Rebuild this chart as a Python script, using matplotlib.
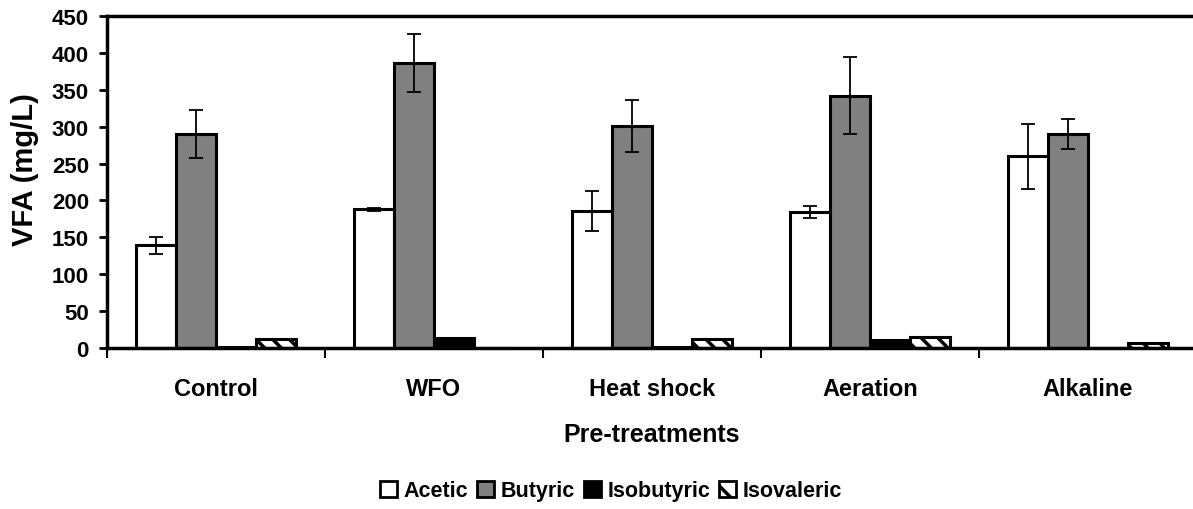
import numpy as np
import matplotlib
matplotlib.use('Agg')
import matplotlib.pyplot as plt
from matplotlib.patches import Patch
from matplotlib.ticker import FixedLocator, MultipleLocator

# Chart data
treatments = ['Control', 'WFO', 'Heat shock', 'Aeration', 'Alkaline']
series = ['Acetic', 'Butyric', 'Isobutyric', 'Isovaleric']

acetic = [139, 188, 186, 184, 260]
acetic_err = [12, 2, 27, 8, 44]
butyric = [290, 386, 301, 342, 290]
butyric_err = [33, 39, 35, 52, 20]
isobutyric = [2, 13, 2, 11, 0]
isovaleric = [12, 0, 12, 15, 7]

plt.rcParams['font.family'] = ['Liberation Sans', 'DejaVu Sans']
plt.rcParams['font.weight'] = 'bold'
plt.rcParams['hatch.linewidth'] = 2.5
plt.rcParams['hatch.color'] = 'black'

fig = plt.figure(figsize=(11.93, 5.10), dpi=100)
ax = fig.add_axes([107 / 1193, 1 - 349 / 510, 1090 / 1193, 332 / 510])

x = np.arange(len(treatments))
w = 0.183
edge = dict(edgecolor='black', linewidth=2.2)
err_kw = dict(ecolor='black', elinewidth=1.3, capsize=5, capthick=1.3)

ax.bar(x - 1.5 * w, acetic, w, color='white', yerr=acetic_err,
       error_kw=err_kw, label='Acetic', **edge)
ax.bar(x - 0.5 * w, butyric, w, color='#808080', yerr=butyric_err,
       error_kw=err_kw, label='Butyric', **edge)
ax.bar(x + 0.5 * w, isobutyric, w, color='black', label='Isobutyric', **edge)
ax.bar(x + 1.5 * w, isovaleric, w, color='white', hatch='\\\\',
       label='Isovaleric', **edge)

ax.set_xlim(-0.5, len(treatments) - 0.5)
ax.set_ylim(0, 450)
ax.yaxis.set_major_locator(MultipleLocator(50))

# category labels in the middle, tick marks between groups
ax.set_xticks(x)
ax.set_xticklabels(treatments, fontsize=17, fontweight='bold')
ax.tick_params(axis='x', which='major', length=0, pad=21)
ax.xaxis.set_minor_locator(FixedLocator(np.arange(-0.5, len(treatments), 1.0)))
ax.tick_params(axis='x', which='minor', length=7, width=1.5, direction='out')
ax.tick_params(axis='y', length=6, width=2, direction='out', labelsize=16, pad=7)
for lbl in ax.get_yticklabels():
    lbl.set_fontweight('bold')

for s in ax.spines.values():
    s.set_linewidth(2.5)

ax.set_xlabel('Pre-treatments', fontsize=18, fontweight='bold', labelpad=16)
ax.set_ylabel('VFA (mg/L)', fontsize=21, fontweight='bold')
ax.yaxis.set_label_coords(-0.062, 0.54)

handles = [
    Patch(facecolor='white', edgecolor='black', linewidth=2, label='Acetic'),
    Patch(facecolor='#808080', edgecolor='black', linewidth=2, label='Butyric'),
    Patch(facecolor='black', edgecolor='black', linewidth=2, label='Isobutyric'),
    Patch(facecolor='white', edgecolor='black', linewidth=2, hatch='\\',
          label='Isovaleric'),
]
fig.legend(handles=handles, loc='center', bbox_to_anchor=(611 / 1193, 1 - 492 / 510),
           ncol=4, frameon=False, handlelength=0.8, handleheight=0.8,
           handletextpad=0.3, columnspacing=0.4, prop={'weight': 'bold', 'size': 15.5})

fig.savefig('out.png', dpi=100)
